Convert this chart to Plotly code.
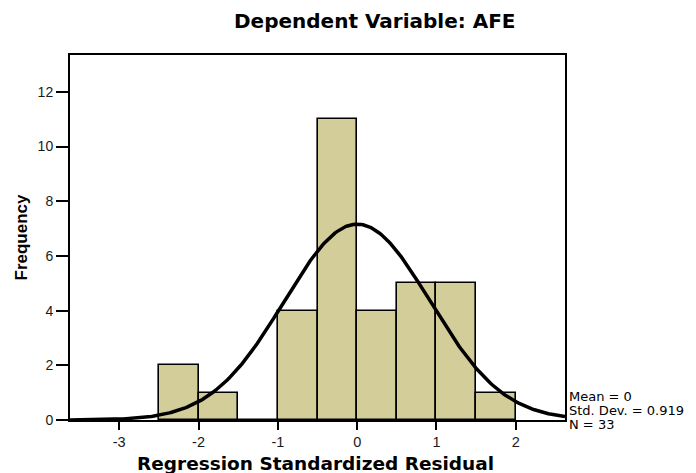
import numpy as np
import plotly.graph_objects as go

# Data
bin_centers = [-2.25, -1.75, -1.25, -0.75, -0.25, 0.25, 0.75, 1.25, 1.75]
frequencies = [2, 1, 0, 4, 11, 4, 5, 5, 1]
bin_width = 0.5
mean_val = 0.0
std_dev = 0.919
n_obs = 33
x_ticks = [-3, -2, -1, 0, 1, 2]
y_ticks = [0, 2, 4, 6, 8, 10, 12]

x_min, x_max = -3.62, 2.62
xs = np.linspace(x_min, x_max, 300)
curve = n_obs * bin_width / (std_dev * np.sqrt(2 * np.pi)) * np.exp(-0.5 * ((xs - mean_val) / std_dev) ** 2)

fig = go.Figure()
fig.add_trace(go.Bar(
    x=bin_centers, y=frequencies, width=bin_width,
    marker=dict(color="#d3ce99", line=dict(color="black", width=1.6)),
    showlegend=False, hoverinfo="skip"))
fig.add_trace(go.Scatter(
    x=xs, y=curve, mode="lines",
    line=dict(color="black", width=3.5), showlegend=False, hoverinfo="skip"))

arial = "Liberation Sans, Arial, sans-serif"
wide = "DejaVu Sans, sans-serif"
fig.update_layout(
    width=688, height=465,
    margin=dict(l=62, r=131, t=47, b=53, autoexpand=False),
    paper_bgcolor="white", plot_bgcolor="white",
    font=dict(family=arial, color="#1a1a1a"),
    bargap=0,
    xaxis=dict(range=[x_min, x_max], tickvals=x_ticks, ticktext=[str(v) for v in x_ticks],
               ticks="outside", ticklen=8, tickwidth=1.5, tickcolor="black",
               showline=True, linecolor="black", linewidth=2, mirror=True,
               showgrid=False, zeroline=False, tickfont=dict(size=14.5, family=arial),
               automargin=False),
    yaxis=dict(range=[0, 13.35], tickvals=y_ticks, ticktext=[str(v) for v in y_ticks],
               ticks="outside", ticklen=12, tickwidth=1.5, tickcolor="black",
               showline=True, linecolor="black", linewidth=2, mirror=True,
               showgrid=False, zeroline=False, tickfont=dict(size=14, family=arial),
               automargin=False),
    annotations=[
        dict(text="<b>Dependent Variable: AFE</b>", xref="paper", yref="paper",
             x=(375 - 70) / 495, y=1, yshift=34, showarrow=False,
             font=dict(size=20, color="black", family=wide), xanchor="center", yanchor="middle"),
        dict(text="<b>Regression Standardized Residual</b>", xref="paper", yref="paper",
             x=0.5, y=0, xshift=-2, yshift=-43, showarrow=False,
             font=dict(size=18.5, color="black", family=wide), xanchor="center", yanchor="middle"),
        dict(text="<b>Frequency</b>", xref="paper", yref="paper", textangle=-90,
             x=0, y=0.5, xshift=-49, showarrow=False,
             font=dict(size=17, color="black", family=arial), xanchor="center", yanchor="middle"),
        dict(text=f"Mean = {mean_val:g}", xref="paper", yref="paper", x=1, y=0,
             xshift=2, yshift=24, showarrow=False, xanchor="left", yanchor="middle",
             font=dict(size=13, color="black", family=wide)),
        dict(text=f"Std. Dev. = {std_dev}", xref="paper", yref="paper", x=1, y=0,
             xshift=2, yshift=10, showarrow=False, xanchor="left", yanchor="middle",
             font=dict(size=13, color="black", family=wide)),
        dict(text=f"N = {n_obs}", xref="paper", yref="paper", x=1, y=0,
             xshift=2, yshift=-4, showarrow=False, xanchor="left", yanchor="middle",
             font=dict(size=13, color="black", family=wide)),
    ],
)
fig.write_html("out.html")
